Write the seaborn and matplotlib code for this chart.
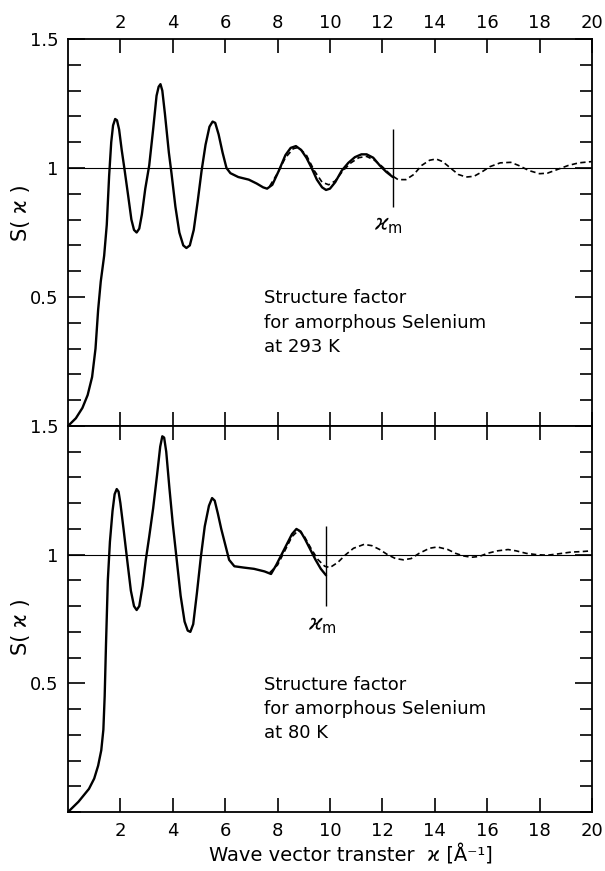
import numpy as np
import pandas as pd
import matplotlib
matplotlib.use("Agg")
import matplotlib.pyplot as plt
import seaborn as sns
from matplotlib.ticker import MultipleLocator

# ---------------- data ----------------
# 293 K, measured (solid)
k_293_solid = [0.0, 0.3, 0.55, 0.75, 0.92, 1.05, 1.15, 1.25, 1.38, 1.48, 1.57, 1.65, 1.72, 1.8, 1.87,
               1.95, 2.05, 2.15, 2.3, 2.42, 2.52, 2.62, 2.72, 2.82, 2.95, 3.1, 3.25, 3.38, 3.46, 3.53,
               3.6, 3.7, 3.85, 3.95, 4.1, 4.25, 4.4, 4.52, 4.65, 4.8, 4.95, 5.1, 5.25, 5.4, 5.52,
               5.62, 5.75, 5.9, 6.05, 6.2, 6.5, 6.9, 7.2, 7.45, 7.6, 7.8, 8.05, 8.3, 8.5, 8.7,
               8.9, 9.1, 9.3, 9.5, 9.7, 9.85, 10.0, 10.2, 10.45, 10.7, 10.95, 11.2, 11.4, 11.65,
               11.9, 12.15, 12.4]
s_293_solid = [0.0, 0.03, 0.07, 0.12, 0.19, 0.30, 0.45, 0.56, 0.66, 0.78, 0.97, 1.10, 1.165, 1.19, 1.185,
               1.15, 1.07, 1.0, 0.89, 0.80, 0.76, 0.75, 0.765, 0.82, 0.92, 1.01, 1.15, 1.28, 1.315, 1.325,
               1.30, 1.21, 1.06, 0.98, 0.85, 0.75, 0.70, 0.69, 0.70, 0.76, 0.87, 0.99, 1.09, 1.16, 1.18,
               1.175, 1.13, 1.06, 1.0, 0.98, 0.965, 0.955, 0.94, 0.925, 0.92, 0.935, 0.99, 1.05, 1.078, 1.085,
               1.07, 1.04, 1.0, 0.955, 0.925, 0.915, 0.92, 0.945, 0.99, 1.02, 1.042, 1.053, 1.053, 1.04,
               1.01, 0.985, 0.965]
# 293 K, fitted / extrapolated (dashed)
k_293_dash = [7.7, 8.0, 8.3, 8.6, 8.8, 9.1, 9.4, 9.7, 9.95, 10.2, 10.5, 10.8, 11.1, 11.4, 11.7, 12.0,
              12.3, 12.6, 12.9, 13.2, 13.5, 13.8, 14.05, 14.3, 14.6, 14.9, 15.2, 15.5, 15.8, 16.1,
              16.5, 16.9, 17.2, 17.6, 18.0, 18.3, 18.7, 19.1, 19.5, 20.0]
s_293_dash = [0.93, 0.98, 1.04, 1.075, 1.08, 1.05, 0.99, 0.945, 0.935, 0.95, 0.99, 1.02, 1.04, 1.045, 1.03, 1.005,
              0.975, 0.955, 0.955, 0.975, 1.01, 1.03, 1.035, 1.025, 1.0, 0.975, 0.965, 0.968, 0.985, 1.005,
              1.02, 1.022, 1.01, 0.99, 0.978, 0.98, 0.995, 1.01, 1.02, 1.025]

# 80 K, measured (solid)
k_80_solid = [0.0, 0.4, 0.8, 1.0, 1.15, 1.27, 1.35, 1.4, 1.45, 1.52, 1.6, 1.7, 1.78, 1.86, 1.93,
              2.0, 2.12, 2.27, 2.4, 2.52, 2.62, 2.72, 2.85, 2.97, 3.1, 3.25, 3.4, 3.52, 3.6, 3.67,
              3.75, 3.87, 4.0, 4.15, 4.3, 4.45, 4.57, 4.67, 4.78, 4.92, 5.07, 5.22, 5.38, 5.5, 5.6,
              5.72, 5.85, 6.0, 6.15, 6.35, 6.7, 7.1, 7.5, 7.75, 7.95, 8.15, 8.35, 8.55, 8.72, 8.88,
              9.05, 9.25, 9.45, 9.65, 9.85]
s_80_solid = [0.0, 0.04, 0.09, 0.13, 0.18, 0.24, 0.32, 0.45, 0.65, 0.9, 1.05, 1.17, 1.235, 1.255, 1.245,
              1.2, 1.1, 0.97, 0.86, 0.80, 0.785, 0.80, 0.88, 0.98, 1.07, 1.18, 1.31, 1.42, 1.46, 1.455,
              1.4, 1.26, 1.12, 0.98, 0.84, 0.74, 0.705, 0.70, 0.73, 0.85, 0.99, 1.11, 1.19, 1.22, 1.21,
              1.16, 1.1, 1.04, 0.98, 0.955, 0.95, 0.945, 0.935, 0.925, 0.96, 1.0, 1.04, 1.08, 1.1, 1.09,
              1.06, 1.02, 0.98, 0.945, 0.92]
# 80 K, fitted / extrapolated (dashed)
k_80_dash = [7.7, 8.0, 8.3, 8.55, 8.8, 9.0, 9.3, 9.55, 9.8, 10.0, 10.3, 10.6, 10.9, 11.3, 11.6, 11.9,
             12.2, 12.5, 12.8, 13.1, 13.4, 13.8, 14.1, 14.5, 14.8, 15.1, 15.4, 15.7, 16.0, 16.4,
             16.8, 17.1, 17.5, 17.9, 18.3, 18.7, 19.2, 19.6, 20.0]
s_80_dash = [0.93, 0.96, 1.02, 1.07, 1.095, 1.075, 1.02, 0.98, 0.955, 0.95, 0.97, 1.0, 1.025, 1.04, 1.035, 1.02,
             1.0, 0.985, 0.98, 0.985, 1.005, 1.025, 1.03, 1.02, 1.005, 0.995, 0.99, 0.993, 1.005, 1.015,
             1.02, 1.015, 1.005, 1.0, 0.998, 1.003, 1.01, 1.012, 1.015]

# cut-off wave vectors kappa_m and the marker extent
km_293 = 12.4
km_80 = 9.85
km_293_span = [0.85, 1.15]
km_80_span = [0.80, 1.11]

x_ticks = [2, 4, 6, 8, 10, 12, 14, 16, 18, 20]
x_tick_labels = ["2", "4", "6", "8", "10", "12", "14", "16", "18", "20"]
y_ticks = [0.5, 1.0, 1.5]
y_tick_labels = ["0.5", "1", "1.5"]

titles = ["Structure factor\nfor amorphous Selenium\nat 293 K",
          "Structure factor\nfor amorphous Selenium\nat 80 K"]

# ---------------- styling ----------------
sns.set_style("white")
plt.rcParams['font.family'] = ['DejaVu Sans']
plt.rcParams['mathtext.fontset'] = 'dejavusans'
plt.rcParams['text.color'] = 'black'
plt.rcParams['axes.labelcolor'] = 'black'
plt.rcParams['xtick.color'] = 'black'
plt.rcParams['ytick.color'] = 'black'

FS = 13
fig = plt.figure(figsize=(6.05, 8.71), dpi=100)
ax_top = fig.add_axes([0.1124, 0.5109, 0.866, 0.4443])
ax_bot = fig.add_axes([0.1124, 0.0677, 0.866, 0.4432])

panels = [
    (ax_top, k_293_solid, s_293_solid, k_293_dash, s_293_dash, km_293, km_293_span, titles[0], "top"),
    (ax_bot, k_80_solid, s_80_solid, k_80_dash, s_80_dash, km_80, km_80_span, titles[1], "bottom"),
]

for ax, ks, ss, kd, sd, km, kspan, title, pos in panels:
    df_s = pd.DataFrame({"k": ks, "S": ss})
    df_d = pd.DataFrame({"k": kd, "S": sd})
    ax.axhline(1.0, color="black", lw=0.8, zorder=1)
    sns.lineplot(data=df_d, x="k", y="S", ax=ax, color="black", lw=1.2,
                 linestyle=(0, (3.2, 2.0)), sort=False, zorder=2)
    sns.lineplot(data=df_s, x="k", y="S", ax=ax, color="black", lw=1.7,
                 sort=False, zorder=3)
    ax.vlines(km, kspan[0], kspan[1], color="black", lw=1.0, zorder=3)
    ax.text(km - 0.15, kspan[0] - 0.035, r"$\varkappa_{\rm m}$", fontsize=FS + 2,
            ha="center", va="top", color="black")
    ax.text(7.5, 0.53, title, fontsize=FS, ha="left", va="top", linespacing=1.45,
            color="black")

    ax.set_xlim(0, 20)
    ax.set_ylim(0, 1.5)
    ax.set_xticks(x_ticks)
    ax.set_xticklabels(x_tick_labels, fontsize=FS)
    ax.set_yticks(y_ticks)
    ax.set_yticklabels(y_tick_labels, fontsize=FS)
    ax.yaxis.set_minor_locator(MultipleLocator(0.1))
    ax.tick_params(axis="y", which="major", direction="in", left=True, right=True,
                   length=12, width=1.2, pad=7)
    ax.tick_params(axis="y", which="minor", direction="in", left=True, right=True,
                   length=9, width=1.2)
    if pos == "top":
        ax.tick_params(axis="x", which="major", direction="in", top=True, bottom=True,
                       labeltop=True, labelbottom=False, length=10, width=1.2, pad=5)
    else:
        ax.tick_params(axis="x", which="major", direction="in", top=True, bottom=True,
                       labeltop=False, labelbottom=True, length=10, width=1.2, pad=7)
    for sp in ax.spines.values():
        sp.set_linewidth(1.3)
        sp.set_color("black")
    ax.set_xlabel("")
    ax.set_ylabel("S( ϰ )", fontsize=FS + 2, labelpad=12)

ax_top.yaxis.set_label_coords(-0.07, 0.55)
ax_bot.yaxis.set_label_coords(-0.07, 0.48)
ax_bot.set_xlabel("Wave vector transter  ϰ [Å⁻¹]", fontsize=FS + 1, labelpad=12)
ax_bot.xaxis.set_label_coords(0.54, -0.085)

fig.savefig("out.png", dpi=100)
